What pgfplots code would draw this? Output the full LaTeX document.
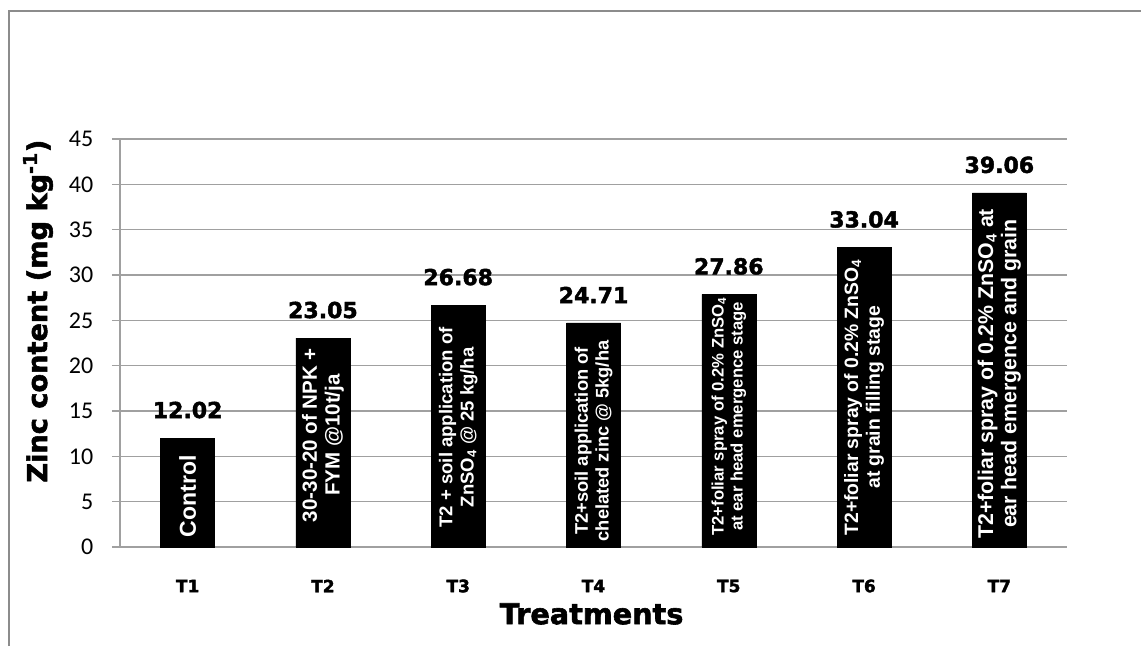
\documentclass[border=0pt]{standalone}
\usepackage{pgfplots}
\pgfplotsset{compat=1.18}
\usepackage{fontspec}
\setmainfont{Carlito}
\newfontfamily\dejavu{DejaVu Sans}[BoldFeatures={FakeBold=2}]
\newfontfamily\libsans{Liberation Sans}
\definecolor{gridgray}{RGB}{160,160,160}
\definecolor{framegray}{RGB}{140,140,140}
\newcommand{\fsz}[2]{\fontsize{#1pt}{#2pt}\selectfont}
\begin{document}
\begin{tikzpicture}
\useasboundingbox (0,0) rectangle (855.75pt,-484.5pt);
\draw[framegray, line width=1.1pt] (6.75pt,-484.5pt) -- (6.75pt,-8.25pt) -- (855.75pt,-8.25pt);
\begin{axis}[
  at={(90pt,-410.25pt)}, anchor=south west,
  scale only axis, width=710.25pt, height=306pt,
  xmin=0.5, xmax=7.5, ymin=0, ymax=45,
  ytick={0,5,...,45},
  xtick={1,...,7}, xticklabels={T1,T2,T3,T4,T5,T6,T7},
  axis x line*=bottom, axis y line*=left,
  axis line style={gridgray, line width=1.1pt, -},
  ymajorgrids, major grid style={gridgray, line width=1.1pt},
  ytick style={gridgray, line width=1.1pt},
  xtick style={draw=none},
  tick align=outside, major tick length=6pt,
  yticklabel style={font=\fsz{18}{20}, /pgf/number format/assume math mode=true, anchor=east, xshift=-10.5pt},
  xticklabel style={font=\dejavu\bfseries\fsz{12.75}{14}, anchor=center, yshift=-23.25pt},
  ylabel={Zinc content (mg kg\textsuperscript{-1})},
  ylabel style={at={(rel axis cs:-0.0866,0.578)}, anchor=center, font=\dejavu\bfseries\fsz{20.4}{22}},
  xlabel={Treatments},
  xlabel style={at={(rel axis cs:0.498,-0.164)}, anchor=center, font=\dejavu\bfseries\fsz{21.5}{23}},
  ybar, bar width=40.5pt,
  nodes near coords, point meta=explicit symbolic,
  every node near coord/.append style={font=\dejavu\bfseries\fsz{16.5}{18}, anchor=center, yshift=21pt, text=black},
]
\addplot[fill=black, draw=black] coordinates {
  (1,12.02) [12.02]
  (2,23.05) [23.05]
  (3,26.68) [26.68]
  (4,24.71) [24.71]
  (5,27.86) [27.86]
  (6,33.04) [33.04]
  (7,39.06) [39.06]
};
\node[rotate=90, text=white, font=\libsans\bfseries\fsz{17.25}{19}, align=center] at (axis cs:1,5.6) {Control};
\node[rotate=90, text=white, font=\libsans\bfseries\fsz{15.4}{17.2}, align=center] at (axis cs:2,12.35) {30-30-20 of NPK +\\FYM @10t/ja};
\node[rotate=90, text=white, font=\libsans\bfseries\fsz{13.9}{15.8}, align=center] at (axis cs:3,13.2) {T2 + soil application of\\ZnSO\textsubscript{4} @ 25 kg/ha};
\node[rotate=90, text=white, font=\libsans\bfseries\fsz{13.7}{15.6}, align=center] at (axis cs:4,11.7) {T2+soil application of\\chelated zinc @ 5kg/ha};
\node[rotate=90, text=white, font=\libsans\bfseries\fsz{12.5}{14.2}, align=center] at (axis cs:5,14.4) {T2+foliar spray of 0.2\% ZnSO\textsubscript{4}\\at ear head emergence stage};
\node[rotate=90, text=white, font=\libsans\bfseries\fsz{14.5}{16.3}, align=center] at (axis cs:6,16.5) {T2+foliar spray of 0.2\% ZnSO\textsubscript{4}\\at grain filling stage};
\node[rotate=90, text=white, font=\libsans\bfseries\fsz{16}{17.5}, align=center] at (axis cs:7,19.1) {T2+foliar spray of 0.2\% ZnSO\textsubscript{4} at\\ear head emergence and grain};
\end{axis}
\end{tikzpicture}
\end{document}
